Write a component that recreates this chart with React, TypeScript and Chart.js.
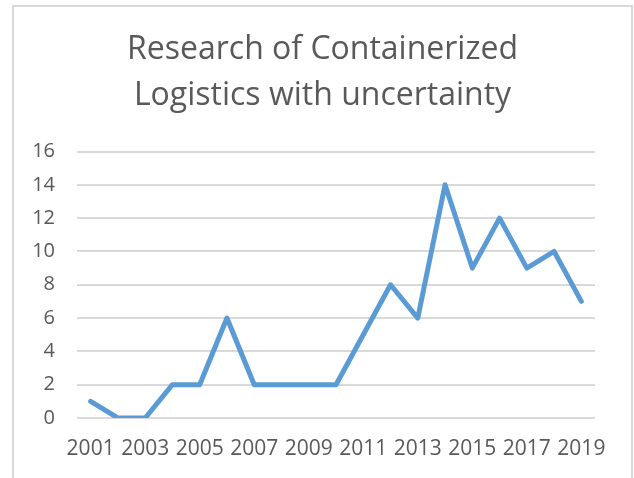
import React, { useEffect, useRef } from "react";
import { Chart, registerables } from "chart.js";

Chart.register(...registerables);

const years: string[] = [
  "2001", "2002", "2003", "2004", "2005", "2006", "2007", "2008", "2009", "2010",
  "2011", "2012", "2013", "2014", "2015", "2016", "2017", "2018", "2019",
];
const papers: number[] = [1, 0, 0, 2, 2, 6, 2, 2, 2, 2, 5, 8, 6, 14, 9, 12, 9, 10, 7];
const yTicks: number[] = [0, 2, 4, 6, 8, 10, 12, 14, 16];
const titleLines: string[] = ["Research of Containerized", "Logistics with uncertainty"];

const FONT = "'Open Sans', 'DejaVu Sans', sans-serif";
const TEXT = "#595959";
const GRID = "#d9d9d9";

const boxTitle = {
  id: "boxTitle",
  afterDraw(chart: any) {
    const ctx = chart.ctx;
    ctx.save();
    ctx.fillStyle = TEXT;
    ctx.font = `normal 32px ${FONT}`;
    ctx.textAlign = "center";
    ctx.textBaseline = "middle";
    const cx = 322.5;
    titleLines.forEach((line, i) => {
      ctx.fillText(line, cx, 50 + i * 46);
    });
    ctx.restore();
  },
};

export default function App() {
  const ref = useRef<HTMLCanvasElement | null>(null);

  useEffect(() => {
    if (!ref.current) return;
    const chart = new Chart(ref.current, {
      type: "line",
      data: {
        labels: years,
        datasets: [
          {
            data: papers,
            borderColor: "#5b9bd5",
            backgroundColor: "#5b9bd5",
            borderWidth: 5,
            pointRadius: 0,
            tension: 0,
            borderJoinStyle: "round",
            borderCapStyle: "round",
          },
        ],
      },
      options: {
        responsive: false,
        animation: false,
        devicePixelRatio: 1,
        layout: { padding: { top: 151.5, left: 0, right: 39, bottom: 0 } },
        plugins: {
          legend: { display: false },
          tooltip: { enabled: false },
          title: { display: false },
        },
        scales: {
          x: {
            offset: true,
            grid: { display: false, drawTicks: false },
            border: { display: false },
            ticks: {
              autoSkip: false,
              maxRotation: 0,
              minRotation: 0,
              padding: 18,
              color: TEXT,
              font: { family: FONT, size: 21 },
              callback: (_v: any, i: number) => (i % 2 === 0 ? years[i] : ""),
            },
            afterFit: (s: any) => {
              s.height = 60;
            },
          },
          y: {
            min: 0,
            max: 16,
            afterBuildTicks: (s: any) => {
              s.ticks = yTicks.map((v) => ({ value: v }));
            },
            grid: { color: GRID, lineWidth: 2, drawTicks: false },
            border: { display: false },
            ticks: {
              padding: 22,
              color: TEXT,
              font: { family: FONT, size: 20 },
            },
            afterFit: (s: any) => {
              s.width = 77;
            },
          },
        },
      },
      plugins: [boxTitle],
    } as any);
    return () => chart.destroy();
  }, []);

  return (
    <div style={{ position: "fixed", left: 0, top: 0, width: 634, height: 478, background: "#fff", overflow: "hidden" }}>
      <div
        style={{
          position: "absolute",
          left: 12,
          top: 5,
          width: 621,
          height: 520,
          boxSizing: "border-box",
          border: `2px solid ${GRID}`,
        }}
      />
      <canvas
        ref={ref}
        width={634}
        height={478}
        style={{ position: "absolute", left: 0, top: 0, width: 634, height: 478 }}
      />
    </div>
  );
}
